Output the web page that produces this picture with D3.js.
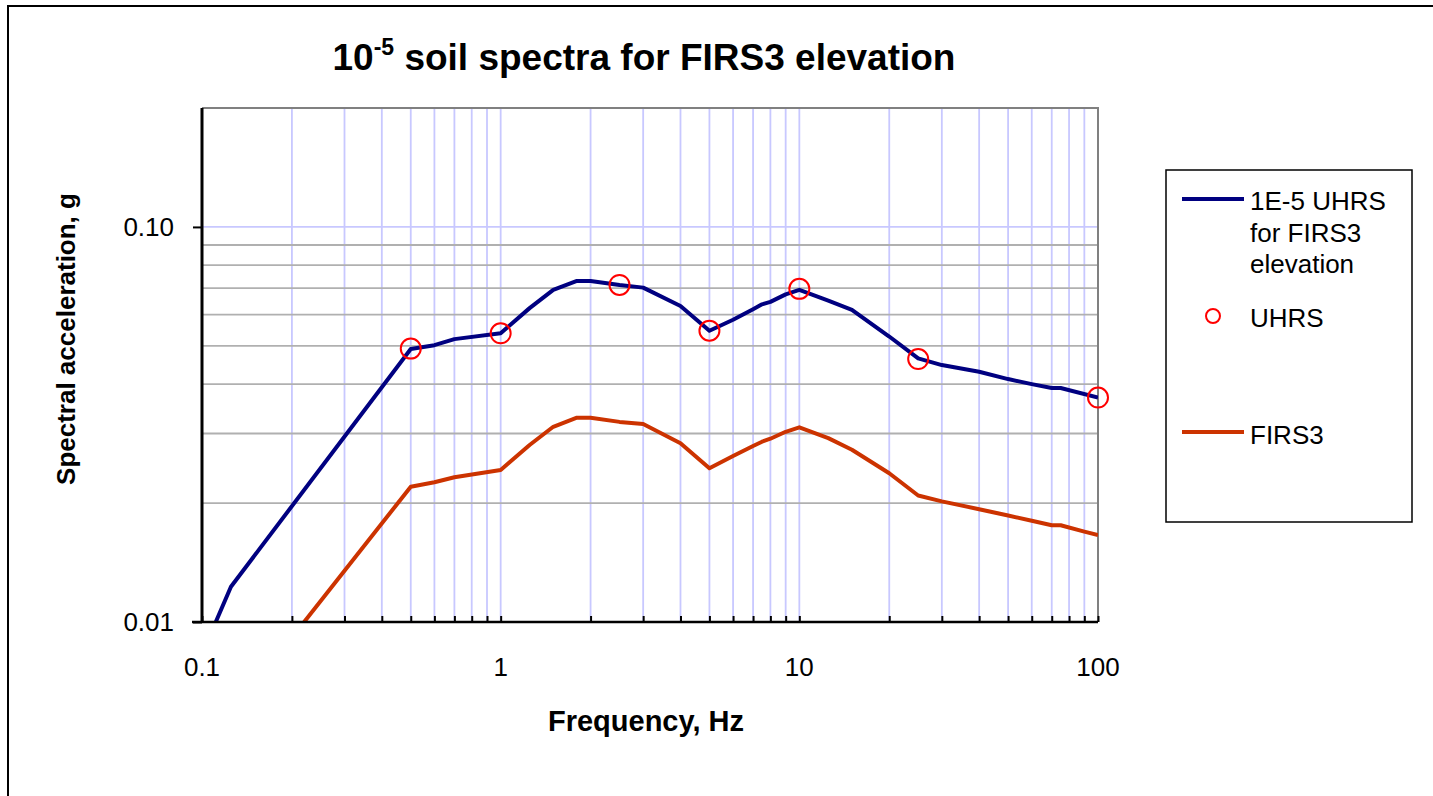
<!DOCTYPE html>
<html>
<head>
<meta charset="utf-8">
<script src="https://cdn.jsdelivr.net/npm/d3@7/dist/d3.min.js"></script>
<style>
  html, body { margin: 0; padding: 0; background: #fff; }
  svg { display: block; }
  text { font-family: "Liberation Sans", Arial, sans-serif; }
</style>
</head>
<body>
<svg id="chart" width="1433" height="796"></svg>
<script>
// ---------------- data ----------------
const uhrsLineFreq = [0.1, 0.125, 0.5, 0.6, 0.7, 1, 1.25, 1.5, 1.8, 2, 2.5, 3, 4, 5, 6, 7, 7.5, 8, 9, 10, 12.5, 15, 20, 25, 30, 40, 50, 60, 70, 75, 100];
const uhrsLineSa   = [0.0083, 0.01228, 0.0491, 0.0502, 0.0520, 0.0538, 0.0623, 0.0693, 0.0730, 0.0730, 0.0713, 0.0702, 0.0631, 0.0546, 0.0582, 0.0619, 0.0637, 0.0646, 0.0675, 0.0693, 0.0651, 0.0617, 0.0528, 0.0465, 0.0447, 0.0430, 0.0412, 0.0400, 0.0391, 0.0391, 0.0370];

const uhrsPointFreq = [0.5, 1, 2.5, 5, 10, 25, 100];
const uhrsPointSa   = [0.0492, 0.0538, 0.0713, 0.0546, 0.0697, 0.0463, 0.0370];

const firsFreq = [0.1, 0.5, 0.6, 0.7, 1, 1.25, 1.5, 1.8, 2, 2.5, 3, 4, 5, 6, 7, 7.5, 8, 9, 10, 12.5, 15, 20, 25, 30, 40, 50, 60, 70, 75, 90, 100];
const firsSa   = [0.0047, 0.0220, 0.02258, 0.02324, 0.02426, 0.02806, 0.0312, 0.0329, 0.0329, 0.0321, 0.0317, 0.02835, 0.0245, 0.0263, 0.0279, 0.0286, 0.0291, 0.0303, 0.0311, 0.0292, 0.0273, 0.0238, 0.0209, 0.0202, 0.0193, 0.0186, 0.01805, 0.01757, 0.01757, 0.01693, 0.0166];

const xTickLabels = [0.1, 1, 10, 100];
const yTickLabels = [0.01, 0.1];
const xGridValues = [0.2,0.3,0.4,0.5,0.6,0.7,0.8,0.9,1,2,3,4,5,6,7,8,9,10,20,30,40,50,60,70,80,90];
const yGridValues = [0.02,0.03,0.04,0.05,0.06,0.07,0.08,0.09];

const seriesNames = ["1E-5 UHRS for FIRS3 elevation", "UHRS", "FIRS3"];

// ---------------- layout ----------------
const svg = d3.select("#chart");
const L = 202, R = 1098, T = 108, B = 622;
const x = d3.scaleLog().domain([0.1, 100]).range([L, R]);
const y = d3.scaleLog().domain([0.01, 0.2]).range([B, T]);

const BLUE = "#000080", ORANGE = "#cc3300", RED = "#ff0000";
const GRID_BLUE = "#c8c8ff", GRID_GRAY = "#b0b0b0";

// outer chart border
svg.append("path")
  .attr("d", `M8,${800} L8,6 L${1440},6`)
  .attr("fill", "none").attr("stroke", "#000").attr("stroke-width", 2);

// title
const title = svg.append("text")
  .attr("x", 644).attr("y", 70)
  .attr("text-anchor", "middle")
  .attr("font-size", 37).attr("font-weight", "bold");
title.append("tspan").text("10");
title.append("tspan").attr("font-size", 23).attr("dy", -15).text("-5");
title.append("tspan").attr("dy", 15).text(" soil spectra for FIRS3 elevation");

// gridlines
const grid = svg.append("g");
grid.selectAll("line.vx").data(xGridValues).enter().append("line")
  .attr("x1", d => x(d)).attr("x2", d => x(d))
  .attr("y1", T).attr("y2", B)
  .attr("stroke", GRID_BLUE).attr("stroke-width", 1.8);
grid.selectAll("line.hy").data(yGridValues).enter().append("line")
  .attr("x1", L).attr("x2", R)
  .attr("y1", d => y(d)).attr("y2", d => y(d))
  .attr("stroke", GRID_GRAY).attr("stroke-width", 1.8);
grid.append("line")
  .attr("x1", L).attr("x2", R).attr("y1", y(0.1)).attr("y2", y(0.1))
  .attr("stroke", GRID_BLUE).attr("stroke-width", 1.8);

// plot-area border (top & right) in gray
svg.append("path")
  .attr("d", `M${L},${T} L${R},${T} L${R},${B}`)
  .attr("fill", "none").attr("stroke", "#808080").attr("stroke-width", 2);

// clip
svg.append("clipPath").attr("id", "clip")
  .append("rect").attr("x", L).attr("y", T).attr("width", R - L).attr("height", B - T);

const line = d3.line().x(d => x(d[0])).y(d => y(d[1]));
const plot = svg.append("g").attr("clip-path", "url(#clip)");

plot.append("path")
  .datum(firsFreq.map((f, i) => [f, firsSa[i]]))
  .attr("d", line).attr("fill", "none")
  .attr("stroke", ORANGE).attr("stroke-width", 4).attr("stroke-linejoin", "round");

plot.append("path")
  .datum(uhrsLineFreq.map((f, i) => [f, uhrsLineSa[i]]))
  .attr("d", line).attr("fill", "none")
  .attr("stroke", BLUE).attr("stroke-width", 4).attr("stroke-linejoin", "round");

svg.append("g").selectAll("circle")
  .data(uhrsPointFreq.map((f, i) => [f, uhrsPointSa[i]]))
  .enter().append("circle")
  .attr("cx", d => x(d[0])).attr("cy", d => y(d[1])).attr("r", 10)
  .attr("fill", "none").attr("stroke", RED).attr("stroke-width", 2);

// x axis
const xAxis = d3.axisBottom(x)
  .tickValues(xGridValues.concat([0.1, 100]))
  .tickSizeInner(-6).tickSizeOuter(0)
  .tickFormat("");
const gx = svg.append("g").attr("transform", `translate(0,${B})`).call(xAxis);
gx.select(".domain").attr("stroke", "#000").attr("stroke-width", 2.5)
  .attr("d", `M${L - 10},0H${R}`);
gx.selectAll(".tick line").attr("stroke", "#000").attr("stroke-width", 2);

svg.append("g").selectAll("text").data(xTickLabels).enter().append("text")
  .attr("x", d => x(d)).attr("y", 676)
  .attr("text-anchor", "middle").attr("font-size", 26)
  .text(d => String(d));

// y axis
const yAxis = d3.axisLeft(y).tickValues(yTickLabels)
  .tickSizeInner(9).tickSizeOuter(0)
  .tickFormat(d3.format(".2f"));
const gy = svg.append("g").attr("transform", `translate(${L},0)`).call(yAxis);
gy.select(".domain").attr("stroke", "#000").attr("stroke-width", 3)
  .attr("d", `M0,${T}V${B}`);
gy.selectAll(".tick line").attr("stroke", "#000").attr("stroke-width", 2);
gy.selectAll(".tick text").attr("font-size", 26).attr("x", -28)
  .attr("font-family", '"Liberation Sans", Arial, sans-serif').attr("fill", "#000");

// axis titles
svg.append("text")
  .attr("x", 646).attr("y", 731)
  .attr("text-anchor", "middle").attr("font-size", 29).attr("font-weight", "bold")
  .text("Frequency, Hz");
svg.append("text")
  .attr("transform", "translate(75,339) rotate(-90)")
  .attr("text-anchor", "middle").attr("font-size", 26).attr("font-weight", "bold")
  .text("Spectral acceleration, g");

// legend
const lg = svg.append("g");
lg.append("rect").attr("x", 1166).attr("y", 170).attr("width", 246).attr("height", 352)
  .attr("fill", "#fff").attr("stroke", "#000").attr("stroke-width", 1.5);
lg.append("line").attr("x1", 1182).attr("x2", 1244).attr("y1", 199).attr("y2", 199)
  .attr("stroke", BLUE).attr("stroke-width", 4);
const t1 = lg.append("text").attr("font-size", 26);
["1E-5 UHRS", "for FIRS3", "elevation"].forEach((s, i) => {
  t1.append("tspan").attr("x", 1250).attr("y", 210 + i * 31.5).text(s);
});
lg.append("circle").attr("cx", 1213).attr("cy", 316).attr("r", 7)
  .attr("fill", "none").attr("stroke", RED).attr("stroke-width", 2);
lg.append("text").attr("x", 1250).attr("y", 327).attr("font-size", 26).text(seriesNames[1]);
lg.append("line").attr("x1", 1182).attr("x2", 1244).attr("y1", 432).attr("y2", 432)
  .attr("stroke", ORANGE).attr("stroke-width", 4);
lg.append("text").attr("x", 1250).attr("y", 444).attr("font-size", 26).text(seriesNames[2]);
</script>
</body>
</html>
